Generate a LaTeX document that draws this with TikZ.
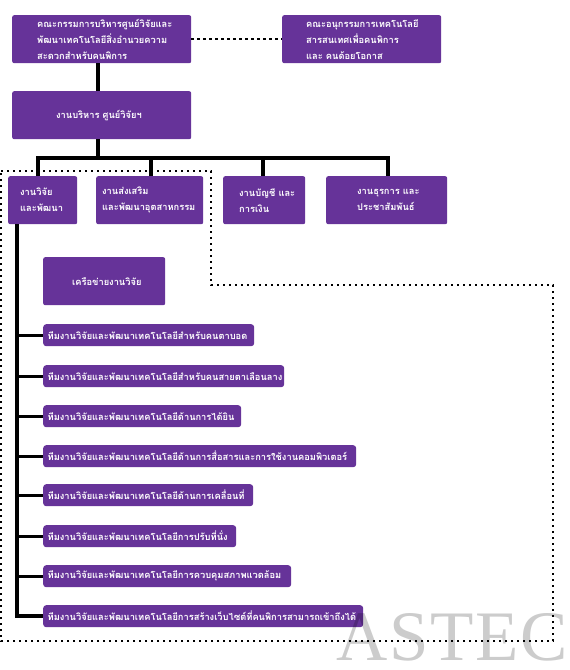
\documentclass[tikz,border=0pt]{standalone}
\usepackage{fontspec}
\setmainfont{Liberation Serif}
\newfontfamily\thaifont[Script=Thai]{Loma}
\newfontfamily\markfont[LetterSpace=2.5]{Liberation Serif}
\usepackage{tikz}
\usetikzlibrary{positioning,calc}
\definecolor{boxpurple}{HTML}{663399}

\begin{document}
\begin{tikzpicture}[x=1pt,y=-1pt,
   box/.style 2 args={fill=boxpurple,text=white,rounded corners=2pt,anchor=north west,inner sep=0pt,
     align=left,minimum height=48pt,text width=#1,execute at begin node={\leftskip=#2\relax},
     font=\thaifont\bfseries\fontsize{9.3}{16}\selectfont},
   team/.style={box={#1}{4.5pt},minimum height=22pt,rounded corners=3pt},
   solid line/.style={line width=4pt},
   dot line/.style={line width=2.2pt,dash pattern=on 2.2pt off 3.8pt},
   mark text/.style={font=\markfont\fontsize{71}{71}\selectfont,anchor=north west,inner sep=0pt}]
  \useasboundingbox (0,0) rectangle (570,670);
  % upper boxes
  \node[box={179pt}{25pt}] (board) at (12,15) {คณะกรรมการบริหารศูนย์วิจัยและ\\พัฒนาเทคโนโลยีสิ่งอำนวยความ\\สะดวกสำหรับคนพิการ};
  \node[box={159pt}{24pt}] (subboard) at (282,15) {คณะอนุกรรมการเทคโนโลยี\\สารสนเทศเพื่อคนพิการ\\และ คนด้อยโอกาส};
  \node[box={179pt}{44pt}] (admin) at (12,91) {งานบริหาร ศูนย์วิจัยฯ};
  % sections
  \node[box={69pt}{12pt}] (research) at (8,176) {งานวิจัย\\และพัฒนา};
  \node[box={107pt}{6pt}] (industry) at (96,176) {งานส่งเสริม\\และพัฒนาอุตสาหกรรม};
  \node[box={82pt}{16pt}] (account) at (223,176) {งานบัญชี และ\\การเงิน};
  \node[box={121pt}{31pt}] (office) at (326,176) {งานธุรการ และ\\ประชาสัมพันธ์};
  \node[box={122pt}{29pt}] (network) at (43,257) {เครือข่ายงานวิจัย};
  % research teams
  \foreach \name/\ypos/\wid/\txt in {
    tblind/324/211/สำหรับคนตาบอด,
    tlow/365/241/สำหรับคนสายตาเลือนลาง,
    thear/405/198/ด้านการได้ยิน,
    tcomm/445/313/ด้านการสื่อสารและการใช้งานคอมพิวเตอร์,
    tmove/484/210/ด้านการเคลื่อนที่,
    tseat/525/193/การปรับที่นั่ง,
    tenv/565/248/การควบคุมสภาพแวดล้อม,
    tweb/605/320/การสร้างเว็บไซต์ที่คนพิการสามารถเข้าถึงได้} {
    \node[team=\wid pt] (\name) at (43,\ypos) {ทีมงานวิจัยและพัฒนาเทคโนโลยี\txt};
  }
  % watermark
  \node[mark text,text=black,opacity=.2] (astec) at (336,613) {ASTEC};
  % connectors
  \coordinate (barleft) at (38,158);
  \coordinate (trunktop) at (17,224);
  \draw[solid line] ([xshift=-3.5pt]board.south) -- ([xshift=-3.5pt]admin.north);
  \draw[solid line] ([xshift=-3.5pt]admin.south) -- ([xshift=-3.5pt]admin.south |- barleft);
  \draw[solid line] (barleft |- research.north) |- ([xshift=1.5pt]office.north |- barleft) -- ([xshift=1.5pt]office.north);
  \draw[solid line] ([xshift=1.5pt]industry.north |- barleft) -- ([xshift=1.5pt]industry.north);
  \draw[solid line] ([xshift=-1pt]account.north |- barleft) -- ([xshift=-1pt]account.north);
  \draw[line width=3.5pt] (trunktop) |- (tweb.west);
  \foreach \name in {tblind,tlow,thear,tcomm,tmove,tseat,tenv}
    \draw[line width=3pt] (trunktop |- \name.west) -- (\name.west);
  \draw[dot line] (board.east) -- (subboard.west);
  \draw[dot line] (1,171) -- (211,171) -- (211,285) -- (553,285) -- (553,641) -- (1,641) -- cycle;
\end{tikzpicture}
\end{document}
